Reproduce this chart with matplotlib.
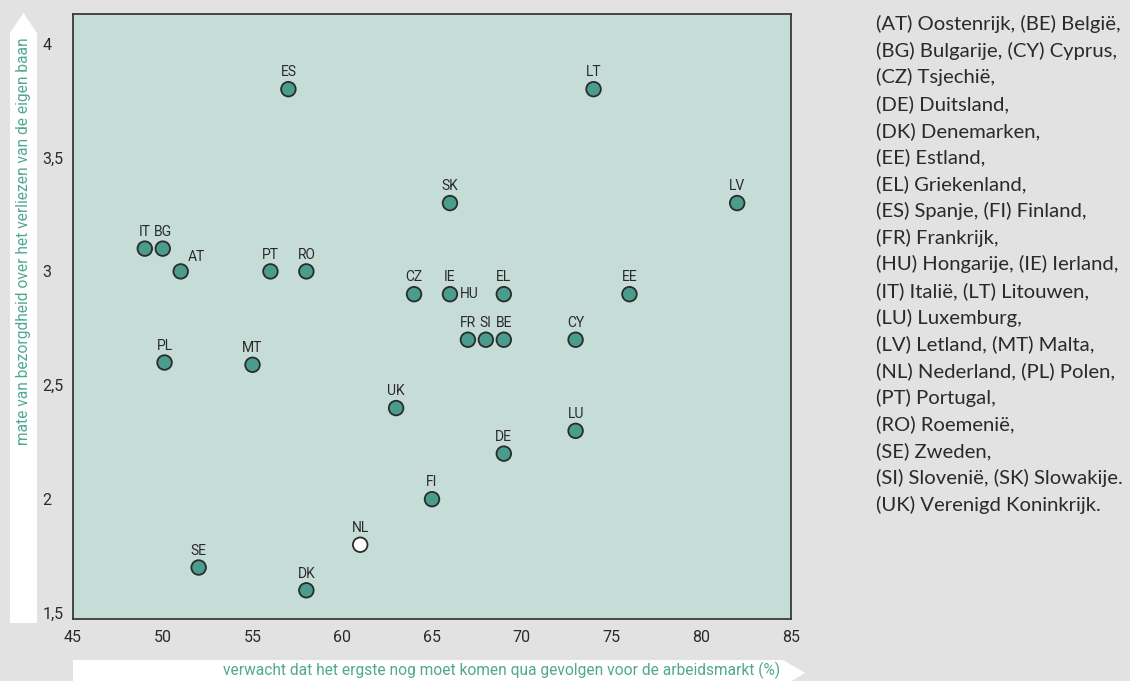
import matplotlib.pyplot as plt
from matplotlib.patches import Polygon
from matplotlib.ticker import FuncFormatter

# === Data ===
countries = ["ES", "LT", "SK", "LV", "IT", "BG", "AT", "PT", "RO", "CZ", "IE", "EL", "EE",
             "FR", "SI", "BE", "CY", "PL", "MT", "UK", "LU", "DE", "FI", "NL", "SE", "DK"]
worst_to_come = [57, 74, 66, 82, 49, 50, 51, 56, 58, 64, 66, 69, 76,
                 67, 68, 69, 73, 50.1, 55, 63, 73, 69, 65, 61, 52, 58]
job_worry = [3.8, 3.8, 3.3, 3.3, 3.1, 3.1, 3.0, 3.0, 3.0, 2.9, 2.9, 2.9, 2.9,
             2.7, 2.7, 2.7, 2.7, 2.6, 2.59, 2.4, 2.3, 2.2, 2.0, 1.8, 1.7, 1.6]

legend_lines = [
    "(AT) Oostenrijk, (BE) België,",
    "(BG) Bulgarije, (CY) Cyprus,",
    "(CZ) Tsjechië,",
    "(DE) Duitsland,",
    "(DK) Denemarken,",
    "(EE) Estland,",
    "(EL) Griekenland,",
    "(ES) Spanje, (FI) Finland,",
    "(FR) Frankrijk,",
    "(HU) Hongarije, (IE) Ierland,",
    "(IT) Italië, (LT) Litouwen,",
    "(LU) Luxemburg,",
    "(LV) Letland, (MT) Malta,",
    "(NL) Nederland, (PL) Polen,",
    "(PT) Portugal,",
    "(RO) Roemenië,",
    "(SE) Zweden,",
    "(SI) Slovenië, (SK) Slowakije.",
    "(UK) Verenigd Koninkrijk.",
]

# === Style ===
narrow = ["Roboto", "DejaVu Sans"]
bg_color = "#e1e2e1"
plot_bg = "#c6dcd7"
dot_color = "#4a9d8c"
label_green = "#4fa892"
text_dark = "#2a2a2a"

W, H = 1130, 681
fig = plt.figure(figsize=(W / 100, H / 100), dpi=100, facecolor=bg_color)

def px(x, y):
    return (x / W, 1 - y / H)

# white arrow strips behind the axis titles
y_strip = [px(10, 623), px(37, 623), px(37, 33), px(23.5, 13), px(10, 33)]
x_strip = [px(73, 660), px(783, 660), px(805, 673), px(783, 686), px(73, 686)]
for pts in (y_strip, x_strip):
    fig.patches.append(Polygon(pts, closed=True, transform=fig.transFigure,
                               facecolor="white", edgecolor="none", zorder=0))

ax = fig.add_axes([73 / W, 1 - 619 / H, (791 - 73) / W, (619 - 14) / H])
ax.set_facecolor(plot_bg)
for s in ax.spines.values():
    s.set_color("#3a3a3a")
    s.set_linewidth(1.3)

ax.set_xlim(45, 85)
ax.set_ylim(1.474, 4.13)
ax.set_xticks(range(45, 90, 5))
ax.set_yticks([1.5, 2, 2.5, 3, 3.5, 4])
ax.yaxis.set_major_formatter(FuncFormatter(lambda v, p: f"{v:g}".replace(".", ",")))
ax.tick_params(length=0, labelsize=11.5, colors=text_dark)
ax.tick_params(axis="x", pad=8)
ax.tick_params(axis="y", pad=22)
for lab in ax.get_yticklabels():
    lab.set_horizontalalignment("left")
for lab in ax.get_xticklabels() + ax.get_yticklabels():
    lab.set_family(narrow)

face = ["white" if c == "NL" else dot_color for c in countries]
ax.scatter(worst_to_come, job_worry, s=110, c=face, edgecolors="#2b2b2b",
           linewidths=1.3, zorder=3)

for c, x, y in zip(countries, worst_to_come, job_worry):
    if c == "AT":
        ax.annotate(c, (x, y), xytext=(5, 5), textcoords="offset points",
                    ha="left", va="bottom", fontsize=10, color=text_dark, family=narrow)
    else:
        ax.annotate(c, (x, y), xytext=(0, 7), textcoords="offset points",
                    ha="center", va="bottom", fontsize=10, color=text_dark, family=narrow)
# HU shares the IE point, label to the right
ie = countries.index("IE")
ax.annotate("HU", (worst_to_come[ie], job_worry[ie]), xytext=(7, 0),
            textcoords="offset points", ha="left", va="center",
            fontsize=10, color=text_dark, family=narrow)

# axis titles
fig.text(*px(780, 670), "verwacht dat het ergste nog moet komen qua gevolgen voor de arbeidsmarkt (%)",
         ha="right", va="center", fontsize=11.2, color=label_green, family=narrow)
fig.text(*px(24, 37), "mate van bezorgdheid over het verliezen van de eigen baan",
         rotation=90, ha="center", va="top", fontsize=11.2, color=label_green, family=narrow)

# country key on the right
for i, line in enumerate(legend_lines):
    fig.text(*px(876, 24 + i * 26.7), line, ha="left", va="center",
             fontsize=14.6, color=text_dark, family=["Lato", "DejaVu Sans"])

fig.savefig("out.png", dpi=100, facecolor=bg_color)
